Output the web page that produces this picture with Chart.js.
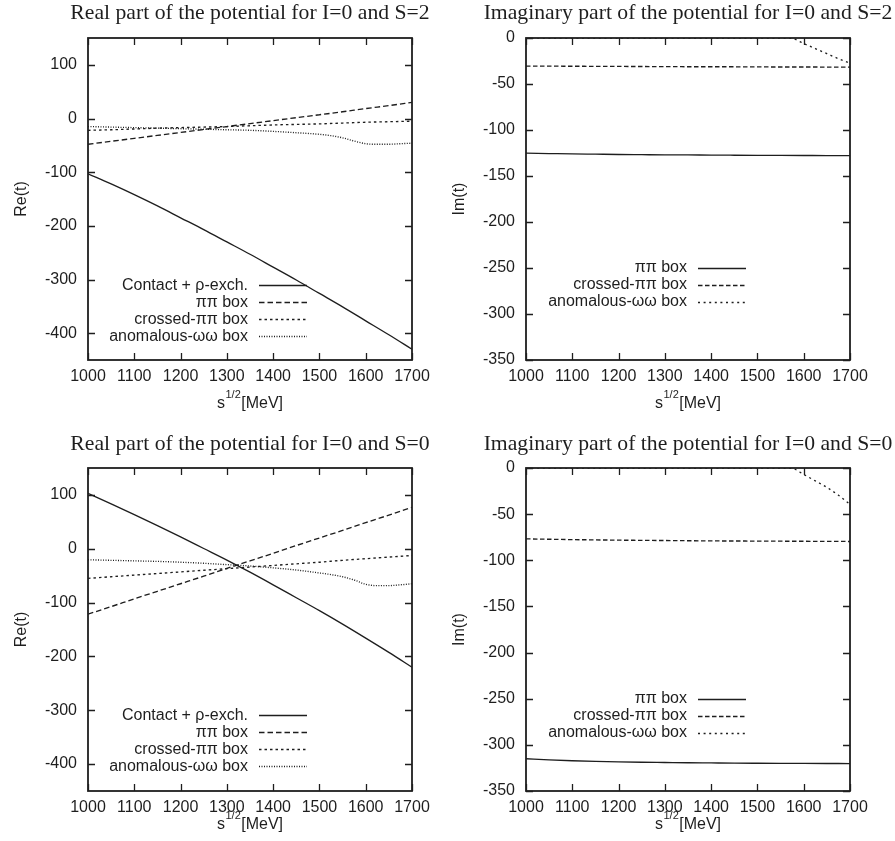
<!DOCTYPE html>
<html>
<head>
<meta charset="utf-8">
<script src="https://cdn.jsdelivr.net/npm/chart.js@4.4.0/dist/chart.umd.min.js"></script>
<style>
  body { margin: 0; background: #fff; width: 895px; height: 841px; position: relative; overflow: hidden; }
  canvas { position: absolute; }
</style>
</head>
<body>
<canvas id="reS2" width="438" height="430" style="left:0;top:0"></canvas>
<canvas id="imS2" width="457" height="430" style="left:438px;top:0"></canvas>
<canvas id="reS0" width="438" height="411" style="left:0;top:430px"></canvas>
<canvas id="imS0" width="457" height="411" style="left:438px;top:430px"></canvas>
<script>
// sqrt(s) grid in MeV
const sqrtS = [1000, 1050, 1100, 1150, 1200, 1250, 1300, 1350, 1400, 1450, 1500, 1550, 1600, 1650, 1700];
const sqrtSFine = [1000, 1050, 1100, 1150, 1200, 1250, 1300, 1350, 1400, 1450, 1500, 1525, 1550, 1575, 1600, 1625, 1650, 1675, 1700];

const xTicks = [1000, 1100, 1200, 1300, 1400, 1500, 1600, 1700];
const reTicks = [-400, -300, -200, -100, 0, 100];
const imTicks = [-350, -300, -250, -200, -150, -100, -50, 0];

// I=0, S=2 real part
const contactRe2 = [-103, -122, -142, -163, -185, -207, -230, -253, -277, -301, -326, -351, -377, -403, -430];
const pipiRe2 = [-48, -42.5, -37, -31.5, -26, -20.5, -15, -9.5, -4, 1.5, 7, 12.5, 18.5, 24, 30];
const crossedRe2 = [-22, -21, -19.5, -18, -17, -16, -15, -13.5, -12, -11, -10, -8.5, -7, -6, -5];
const anomRe2 = [-15, -16, -17, -18, -19, -20, -21, -22, -24, -26.5, -29.5, -32, -36, -42, -47, -48, -48, -47, -46];

// I=0, S=2 imaginary part
const pipiIm2 = [-125.2, -125.6, -126, -126.3, -126.6, -126.8, -127, -127.1, -127.3, -127.4, -127.5, -127.6, -127.7, -127.8, -127.8];
const crossedIm2 = [-30.5, -30.6, -30.7, -30.8, -30.9, -31, -31.1, -31.2, -31.2, -31.3, -31.4, -31.5, -31.5, -31.6, -31.6];
const anomIm2 = [0, 0, 0, 0, 0, 0, 0, 0, 0, 0, 0, 0, 0, -0.5, -6, -11.5, -17, -22.5, -27.5];

// I=0, S=0 real part
const contactRe0 = [103, 83.5, 63.5, 43, 22, 0.5, -21, -43.5, -67, -91, -115, -140, -166, -192.5, -220];
const pipiRe0 = [-121.5, -107.5, -93, -79, -65, -51, -36.5, -22.5, -8.5, 6, 20, 34, 48.5, 62.5, 77];
const crossedRe0 = [-55, -52, -49, -46, -43, -40, -37, -34, -31, -28, -25, -21.5, -18.5, -15.5, -12.5];
const anomRe0 = [-20.5, -21.5, -22.5, -23.5, -25, -27, -29.5, -32, -35.5, -39.5, -45, -48, -52, -58, -66, -68.5, -68.5, -67, -65];

// I=0, S=0 imaginary part
const pipiIm0 = [-315, -316.3, -317.2, -317.9, -318.4, -318.8, -319.1, -319.4, -319.6, -319.8, -319.9, -320, -320.1, -320.2, -320.3];
const crossedIm0 = [-76.8, -77.2, -77.6, -77.9, -78.2, -78.4, -78.6, -78.8, -79, -79.1, -79.2, -79.3, -79.4, -79.5, -79.6];
const anomIm0 = [0, 0, 0, 0, 0, 0, 0, 0, 0, 0, 0, 0, 0, -0.5, -7, -14, -21, -29.5, -39.5];

const INK = '#1e1e1e';
const SANS = '"Liberation Sans", Arial, Helvetica, sans-serif';
const SERIF = '"Liberation Serif", "Times New Roman", serif';

function pts(xs, ys) {
  return xs.map((x, i) => ({ x: x, y: ys[i] }));
}

// gnuplot-like decorations: frame, inward mirror ticks, title, x label, key
const gnuplotLook = {
  id: 'gnuplotLook',
  afterDraw(chart, args, opts) {
    const ctx = chart.ctx;
    const a = chart.chartArea;
    const xs = chart.scales.x, ys = chart.scales.y;
    ctx.save();
    ctx.strokeStyle = INK;
    ctx.lineWidth = 1.3;
    ctx.setLineDash([]);
    ctx.beginPath();
    xs.ticks.forEach(t => {
      const px = Math.round(xs.getPixelForValue(t.value)) + 0.5;
      ctx.moveTo(px, a.bottom); ctx.lineTo(px, a.bottom - 7);
      ctx.moveTo(px, a.top); ctx.lineTo(px, a.top + 7);
    });
    ys.ticks.forEach(t => {
      const py = Math.round(ys.getPixelForValue(t.value)) + 0.5;
      ctx.moveTo(a.left, py); ctx.lineTo(a.left + 7, py);
      ctx.moveTo(a.right, py); ctx.lineTo(a.right - 7, py);
    });
    ctx.stroke();
    ctx.lineWidth = 1.8;
    ctx.strokeRect(a.left, a.top, a.right - a.left, a.bottom - a.top);

    // title
    ctx.fillStyle = INK;
    ctx.font = '21.7px ' + SERIF;
    ctx.textAlign = 'center';
    ctx.textBaseline = 'alphabetic';
    ctx.fillText(opts.title, (a.left + a.right) / 2, opts.titleY);

    // x label s^{1/2}[MeV]
    const cx = (a.left + a.right) / 2;
    ctx.font = '16px ' + SANS;
    const wS = ctx.measureText('s').width;
    const wU = ctx.measureText('[MeV]').width;
    ctx.font = '11px ' + SANS;
    const wSup = ctx.measureText('1/2').width;
    let x0 = cx - (wS + wSup + 1 + wU) / 2;
    ctx.textAlign = 'left';
    ctx.font = '16px ' + SANS;
    ctx.fillText('s', x0, opts.xTitleY);
    ctx.font = '11px ' + SANS;
    ctx.fillText('1/2', x0 + wS + 0.5, opts.xTitleY - 10);
    ctx.font = '16px ' + SANS;
    ctx.fillText('[MeV]', x0 + wS + wSup + 1, opts.xTitleY);

    // key
    const textRight = a.left + opts.keyOffset;
    let ky = ys.getPixelForValue(opts.keyTop);
    ctx.textAlign = 'right';
    ctx.textBaseline = 'middle';
    chart.data.datasets.forEach(ds => {
      ctx.fillText(ds.label, textRight, ky);
      ctx.beginPath();
      ctx.lineWidth = ds.borderWidth;
      ctx.setLineDash(ds.borderDash || []);
      ctx.moveTo(textRight + 11, Math.round(ky) + 0.5);
      ctx.lineTo(textRight + 59, Math.round(ky) + 0.5);
      ctx.stroke();
      ky += 17;
    });
    ctx.restore();
  }
};

function makePanel(id, p) {
  const canvas = document.getElementById(id);
  const W = canvas.width, H = canvas.height;
  new Chart(canvas, {
    type: 'line',
    data: {
      datasets: p.series.map(s => ({
        label: s.label,
        data: pts(s.xs, s.ys),
        borderColor: INK,
        borderWidth: 1.35,
        borderDash: s.dash,
        pointRadius: 0,
        fill: false,
        cubicInterpolationMode: 'monotone'
      }))
    },
    options: {
      responsive: false,
      animation: false,
      devicePixelRatio: 1,
      layout: { padding: { left: 0, top: p.area.top, right: W - p.area.right, bottom: 0 } },
      plugins: {
        legend: { display: false },
        tooltip: { enabled: false },
        gnuplotLook: p.look
      },
      scales: {
        x: {
          type: 'linear',
          min: 1000, max: 1700,
          grid: { display: false, drawTicks: false },
          border: { display: false },
          afterBuildTicks: s => { s.ticks = xTicks.map(v => ({ value: v })); },
          afterFit: s => { s.height = H - p.area.bottom; },
          ticks: { color: INK, font: { family: SANS, size: 16 }, padding: 7, maxRotation: 0, callback: v => String(v) }
        },
        y: {
          type: 'linear',
          min: p.yMin, max: p.yMax,
          grid: { display: false, drawTicks: false },
          border: { display: false },
          afterBuildTicks: s => { s.ticks = p.yTicks.map(v => ({ value: v })); },
          afterFit: s => { s.width = p.area.left; },
          ticks: { color: INK, font: { family: SANS, size: 16 }, padding: 11, callback: v => String(v) },
          title: { display: true, text: p.yTitle, color: INK, font: { family: SANS, size: 16 }, padding: { top: 12, bottom: 0 } }
        }
      }
    },
    plugins: [gnuplotLook]
  });
}

const leftKey = ['Contact + \u03c1-exch.', '\u03c0\u03c0 box', 'crossed-\u03c0\u03c0 box', 'anomalous-\u03c9\u03c9 box'];
const rightKey = ['\u03c0\u03c0 box', 'crossed-\u03c0\u03c0 box', 'anomalous-\u03c9\u03c9 box'];

makePanel('reS2', {
  area: { left: 88, top: 38, right: 412, bottom: 360 },
  yMin: -450, yMax: 150, yTicks: reTicks, yTitle: 'Re(t)',
  look: { title: 'Real part of the potential for I=0 and S=2', titleY: 19, xTitleY: 408, keyOffset: 160, keyTop: -311 },
  series: [
    { label: leftKey[0], xs: sqrtS, ys: contactRe2, dash: [] },
    { label: leftKey[1], xs: sqrtS, ys: pipiRe2, dash: [5.5, 3] },
    { label: leftKey[2], xs: sqrtS, ys: crossedRe2, dash: [2.5, 3] },
    { label: leftKey[3], xs: sqrtSFine, ys: anomRe2, dash: [1, 1.5] }
  ]
});

makePanel('imS2', {
  area: { left: 88, top: 38, right: 412, bottom: 360 },
  yMin: -350, yMax: 0, yTicks: imTicks, yTitle: 'Im(t)',
  look: { title: 'Imaginary part of the potential for I=0 and S=2', titleY: 19, xTitleY: 408, keyOffset: 161, keyTop: -250 },
  series: [
    { label: rightKey[0], xs: sqrtS, ys: pipiIm2, dash: [] },
    { label: rightKey[1], xs: sqrtS, ys: crossedIm2, dash: [4.5, 2.5] },
    { label: rightKey[2], xs: sqrtSFine, ys: anomIm2, dash: [2, 3.6] }
  ]
});

makePanel('reS0', {
  area: { left: 88, top: 38, right: 412, bottom: 361 },
  yMin: -450, yMax: 150, yTicks: reTicks, yTitle: 'Re(t)',
  look: { title: 'Real part of the potential for I=0 and S=0', titleY: 20, xTitleY: 399, keyOffset: 160, keyTop: -309 },
  series: [
    { label: leftKey[0], xs: sqrtS, ys: contactRe0, dash: [] },
    { label: leftKey[1], xs: sqrtS, ys: pipiRe0, dash: [5.5, 3] },
    { label: leftKey[2], xs: sqrtS, ys: crossedRe0, dash: [2.5, 3] },
    { label: leftKey[3], xs: sqrtSFine, ys: anomRe0, dash: [1, 1.5] }
  ]
});

makePanel('imS0', {
  area: { left: 88, top: 38, right: 412, bottom: 361 },
  yMin: -350, yMax: 0, yTicks: imTicks, yTitle: 'Im(t)',
  look: { title: 'Imaginary part of the potential for I=0 and S=0', titleY: 20, xTitleY: 399, keyOffset: 161, keyTop: -250 },
  series: [
    { label: rightKey[0], xs: sqrtS, ys: pipiIm0, dash: [] },
    { label: rightKey[1], xs: sqrtS, ys: crossedIm0, dash: [4.5, 2.5] },
    { label: rightKey[2], xs: sqrtSFine, ys: anomIm0, dash: [2, 3.6] }
  ]
});
</script>
</body>
</html>
